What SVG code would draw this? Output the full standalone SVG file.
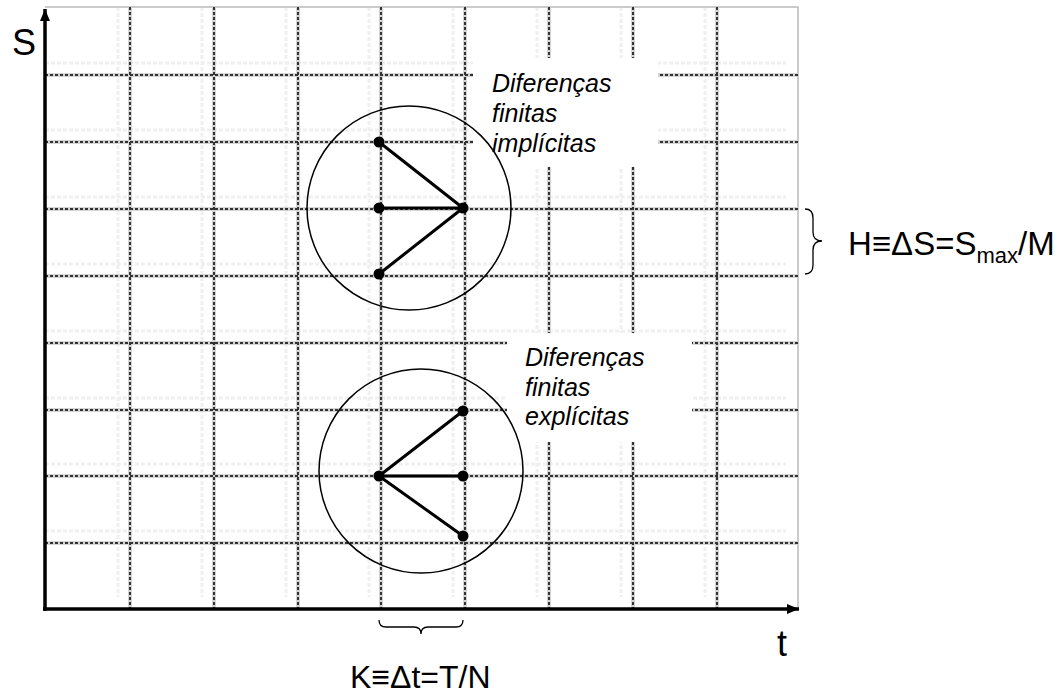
<svg xmlns="http://www.w3.org/2000/svg" width="1064" height="695" viewBox="0 0 1064 695">
<style>
.g{stroke:#333;stroke-width:2;stroke-dasharray:3 2;fill:none}
.gh{stroke:#d4d4d4;stroke-width:4;fill:none}
.sh{stroke:#f0f0f0;stroke-width:3;stroke-dasharray:4 2;fill:none}
.lbl{font-family:"Liberation Sans",Arial,sans-serif;fill:#000}
.it{font-family:"Liberation Sans",Arial,sans-serif;font-style:italic;font-size:25px;fill:#000}
.c{fill:none;stroke:#000;stroke-width:1.5}
.e{stroke:#000;stroke-width:3;fill:none}
.br{fill:none;stroke:#000;stroke-width:1.3}
</style>
<defs>
<marker id="ah" viewBox="0 0 12 10" refX="12" refY="5" markerWidth="12" markerHeight="10" markerUnits="userSpaceOnUse" orient="auto">
<path d="M0,0 L12,5 L0,10 z" fill="#000"/>
</marker>
</defs>
<rect width="1064" height="695" fill="#fff"/>
<g id="grid-shadow">
<path class="sh" d="M118,7V597M202,7V597M286,7V597M369,7V597M453,7V597M537,7V597M621,7V597M705,7V597"/>
<path class="sh" d="M45,63H786M45,130H786M45,197H786M45,264H786M45,331H786M45,398H786M45,464H786M45,531H786"/>
</g>
<g id="grid">
<path d="M45,7H798V609" fill="none" stroke="#bbb" stroke-width="1.5"/>
<path class="gh" d="M130,7V609M214,7V609M298,7V609M381,7V609M465,7V609M549,7V609M633,7V609M717,7V609"/>
<path class="gh" d="M45,75H798M45,142H798M45,209H798M45,276H798M45,343H798M45,410H798M45,476H798M45,543H798"/>
<path class="g" d="M130,7V609M214,7V609M298,7V609M381,7V609M465,7V609M549,7V609M633,7V609M717,7V609"/>
<path class="g" d="M45,75H798M45,142H798M45,209H798M45,276H798M45,343H798M45,410H798M45,476H798M45,543H798"/>
</g>
<g id="label-boxes">
<rect x="473" y="58" width="185" height="109" fill="#fff"/>
<rect x="507" y="333" width="185" height="109" fill="#fff"/>
</g>
<g id="axes">
<line x1="45" y1="611" x2="45" y2="9" stroke="#000" stroke-width="3.5" marker-end="url(#ah)"/>
<line x1="43" y1="609" x2="799" y2="609" stroke="#000" stroke-width="3.5" marker-end="url(#ah)"/>
</g>
<g id="implicit-stencil">
<circle class="c" cx="409" cy="208" r="102"/>
<path class="e" d="M379,142L463,208M379,208H463M379,274L463,208"/>
<circle cx="379" cy="142" r="5.5"/>
<circle cx="379" cy="208" r="5.5"/>
<circle cx="379" cy="274" r="5.5"/>
<circle cx="463" cy="208" r="5.5"/>
</g>
<g id="explicit-stencil">
<circle class="c" cx="421" cy="471" r="102"/>
<path class="e" d="M379,476L463,411M379,476H463M379,476L463,536"/>
<circle cx="379" cy="476" r="5.5"/>
<circle cx="463" cy="411" r="5.5"/>
<circle cx="463" cy="476" r="5.5"/>
<circle cx="463" cy="536" r="5.5"/>
</g>
<g id="implicit-label">
<text class="it" x="492" y="92">Diferenças</text>
<text class="it" x="492" y="122">finitas</text>
<text class="it" x="492" y="152">implícitas</text>
</g>
<g id="explicit-label">
<text class="it" x="525" y="366">Diferenças</text>
<text class="it" x="525" y="396">finitas</text>
<text class="it" x="525" y="425">explícitas</text>
</g>
<g id="braces">
<path class="br" d="M805,209Q813,209 813,218L813,232Q813,241 822,241Q813,241 813,250L813,265Q813,274 805,274"/>
<path class="br" d="M379,620Q379,627 386,627L414,627Q421,627 421,634Q421,627 428,627L456,627Q463,627 463,620"/>
</g>
<g id="axis-labels">
<text class="lbl" x="12" y="55" font-size="36">S</text>
<text class="lbl" x="777" y="656" font-size="36">t</text>
<text class="lbl" x="350" y="688" font-size="32">K≡Δt=T/N</text>
<text class="lbl" x="848" y="255" font-size="33">H≡ΔS=S<tspan font-size="22" dy="8">max</tspan><tspan dy="-8">/M</tspan></text>
</g>
</svg>
